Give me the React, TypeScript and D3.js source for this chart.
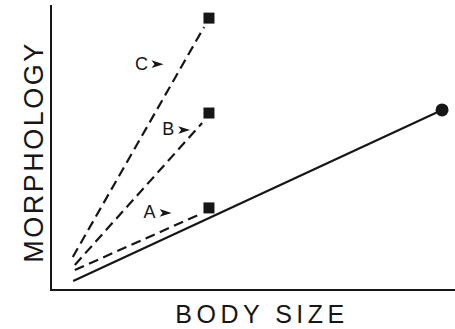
import React from "react";
import * as d3 from "d3";

const W = 455;
const H = 329;

// abstract units 0..100 on both axes
const solidLine = [
  { x: 5.5, y: 3.2 },
  { x: 96.8, y: 63.2 },
];
const endCircle = { x: 96.8, y: 63.2 };

const seriesNames = ["A", "B", "C"];
const dashStarts = [
  { x: 5.9, y: 7.0 },
  { x: 5.9, y: 8.8 },
  { x: 5.4, y: 11.6 },
];
const dashEnds = [
  { x: 36.4, y: 26.3 },
  { x: 37.4, y: 58.6 },
  { x: 37.9, y: 92.3 },
];
const squares = [
  { x: 39.1, y: 28.8 },
  { x: 39.1, y: 62.1 },
  { x: 39.1, y: 95.4 },
];
const labelPos = [
  { x: 24.4, y: 27.4 },
  { x: 29.0, y: 56.5 },
  { x: 22.4, y: 79.6 },
];

const xLabel = "BODY SIZE";
const yLabel = "MORPHOLOGY";

export default function App() {
  const x = d3.scaleLinear().domain([0, 100]).range([51, 455]);
  const y = d3.scaleLinear().domain([0, 100]).range([290, 5]);
  const line = d3
    .line<{ x: number; y: number }>()
    .x((d) => x(d.x))
    .y((d) => y(d.y));
  const ink = "#161616";

  const arrow = (ax: number, ay: number) =>
    `M${ax + 12},${ay} L${ax},${ay - 3.8} L${ax + 3},${ay} L${ax},${ay + 3.8} Z`;

  return (
    <svg
      width={W}
      height={H}
      style={{ position: "absolute", left: 0, top: 0, background: "#fff" }}
      fontFamily="'Liberation Sans', Arial, sans-serif"
    >
      {/* axes */}
      <line x1={x(0)} y1={y(100)} x2={x(0)} y2={y(0)} stroke={ink} strokeWidth={2} />
      <line x1={x(0) - 1} y1={y(0)} x2={W} y2={y(0)} stroke={ink} strokeWidth={2} />

      {/* solid line */}
      <path d={line(solidLine) || ""} fill="none" stroke={ink} strokeWidth={2.2} />
      <circle cx={x(endCircle.x)} cy={y(endCircle.y)} r={6.5} fill={ink} />

      {/* dashed lines */}
      {seriesNames.map((n, i) => (
        <g key={n}>
          <path
            d={line([dashStarts[i], dashEnds[i]]) || ""}
            fill="none"
            stroke={ink}
            strokeWidth={2.2}
            strokeDasharray="10 5.5"
          />
          <rect
            x={x(squares[i].x) - 5.5}
            y={y(squares[i].y) - 5.5}
            width={11}
            height={11}
            fill={ink}
          />
          <text
            x={x(labelPos[i].x)}
            y={y(labelPos[i].y) + 6.5}
            fontSize={18}
            textAnchor="middle"
            fill={ink}
          >
            {n}
          </text>
          <path d={arrow(x(labelPos[i].x) + 10, y(labelPos[i].y) + 1)} fill={ink} />
        </g>
      ))}

      {/* axis labels */}
      <text
        x={262}
        y={323}
        fontSize={25}
        textAnchor="middle"
        letterSpacing={4.5}
        fill={ink}
      >
        {xLabel}
      </text>
      <text
        transform={`translate(43,152) rotate(-90)`}
        fontSize={27}
        textAnchor="middle"
        letterSpacing={2.5}
        fill={ink}
      >
        {yLabel}
      </text>
    </svg>
  );
}
